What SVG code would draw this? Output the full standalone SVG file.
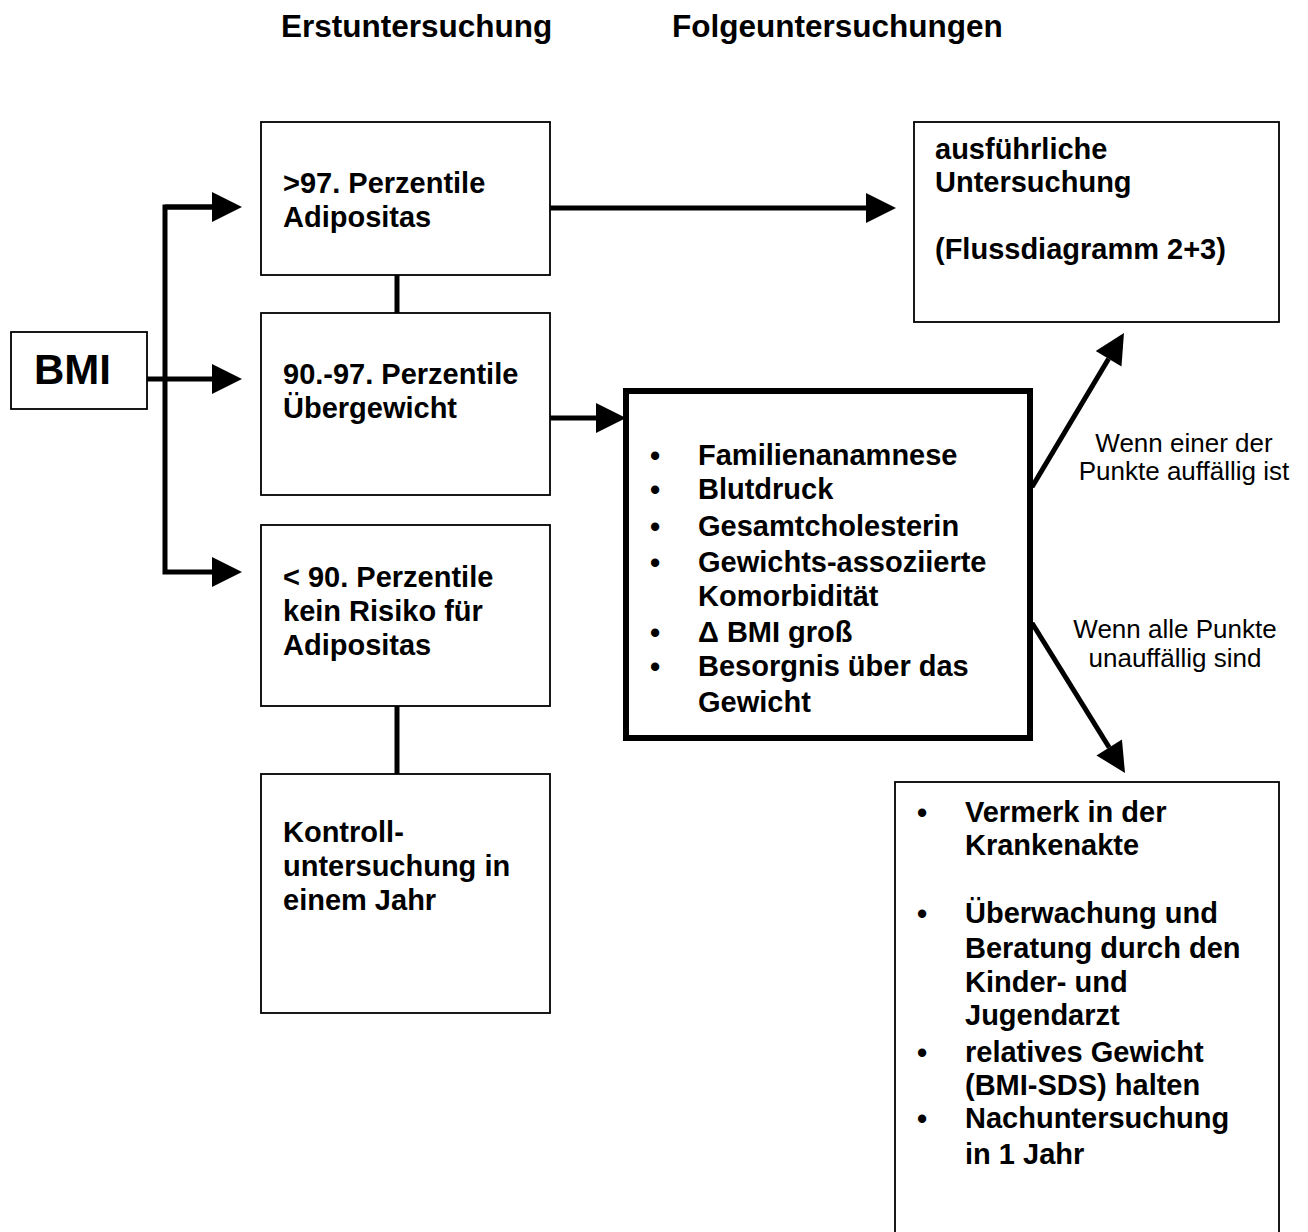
<svg xmlns="http://www.w3.org/2000/svg" width="1308" height="1232" viewBox="0 0 1308 1232">
<style>
.bx{fill:#fff;stroke:#000;stroke-width:1.8}
.thick{fill:#fff;stroke:#000;stroke-width:6}
.t{font-family:"Liberation Sans",Arial,sans-serif;font-weight:bold;font-size:29px;fill:#000}
.h{font-family:"Liberation Sans",Arial,sans-serif;font-weight:bold;font-size:31.5px;fill:#000}
.lbl{font-family:"Liberation Sans",Arial,sans-serif;font-size:26px;fill:#000;text-anchor:middle}
.bu{font-family:"Liberation Sans",Arial,sans-serif;font-weight:bold;font-size:29px;fill:#000;text-anchor:middle}
.c{fill:none;stroke:#000;stroke-width:5}
</style>
<defs>
<marker id="ah" markerUnits="userSpaceOnUse" markerWidth="30" markerHeight="30" refX="0" refY="15" orient="auto" overflow="visible">
<path d="M0,0 L30,15 L0,30 z" fill="#000"/>
</marker>
</defs>
<rect width="1308" height="1232" fill="#fff"/>

<g id="headers">
<text class="h" x="281" y="37">Erstuntersuchung</text>
<text class="h" x="672" y="37">Folgeuntersuchungen</text>
</g>

<g id="connectors">
<path class="c" d="M212,207 H165 V572 H212" marker-end="url(#ah)"/>
<path class="c" d="M165,207 H212" marker-end="url(#ah)"/>
<path class="c" d="M147,379 H212" marker-end="url(#ah)"/>
<path class="c" d="M550,208 H866" marker-end="url(#ah)"/>
<path class="c" d="M550,418 H596" marker-end="url(#ah)"/>
<path class="c" d="M397,275 V313"/>
<path class="c" d="M397,698 V774"/>
<path class="c" d="M1032,487 L1108.6,358.7" marker-end="url(#ah)"/>
<path class="c" d="M1032,623 L1109.2,747.5" marker-end="url(#ah)"/>
</g>

<g id="bmi">
<rect class="bx" x="11" y="332" width="136" height="77"/>
<text x="34" y="384" style="font-family:'Liberation Sans',Arial,sans-serif;font-weight:bold;font-size:42px">BMI</text>
</g>

<g id="n97">
<rect class="bx" x="261" y="122" width="289" height="153"/>
<text class="t" x="283" y="193">&gt;97. Perzentile</text>
<text class="t" x="283" y="227">Adipositas</text>
</g>

<g id="n90-97">
<rect class="bx" x="261" y="313" width="289" height="182"/>
<text class="t" x="283" y="384">90.-97. Perzentile</text>
<text class="t" x="283" y="418">Übergewicht</text>
</g>

<g id="n90">
<rect class="bx" x="261" y="525" width="289" height="181"/>
<text class="t" x="283" y="587">&lt; 90. Perzentile</text>
<text class="t" x="283" y="621">kein Risiko für</text>
<text class="t" x="283" y="655">Adipositas</text>
</g>

<g id="kontroll">
<rect class="bx" x="261" y="774" width="289" height="239"/>
<text class="t" x="283" y="842">Kontroll-</text>
<text class="t" x="283" y="876">untersuchung in</text>
<text class="t" x="283" y="910">einem Jahr</text>
</g>

<g id="ausfuehrlich">
<rect class="bx" x="914" y="122" width="365" height="200"/>
<text class="t" x="935" y="159">ausführliche</text>
<text class="t" x="935" y="192">Untersuchung</text>
<text class="t" x="935" y="259">(Flussdiagramm 2+3)</text>
</g>

<g id="checkliste">
<rect class="thick" x="626" y="391" width="404" height="347"/>
<text class="bu" x="655" y="466">•</text>
<text class="t" x="698" y="465">Familienanamnese</text>
<text class="bu" x="655" y="500">•</text>
<text class="t" x="698" y="499">Blutdruck</text>
<text class="bu" x="655" y="537">•</text>
<text class="t" x="698" y="536">Gesamtcholesterin</text>
<text class="bu" x="655" y="573">•</text>
<text class="t" x="698" y="572">Gewichts-assoziierte</text>
<text class="t" x="698" y="606">Komorbidität</text>
<text class="bu" x="655" y="643">•</text>
<text class="t" x="698" y="642">Δ BMI groß</text>
<text class="bu" x="655" y="677">•</text>
<text class="t" x="698" y="676">Besorgnis über das</text>
<text class="t" x="698" y="712">Gewicht</text>
</g>

<g id="labels">
<text class="lbl" x="1184" y="452">Wenn einer der</text>
<text class="lbl" x="1184" y="480">Punkte auffällig ist</text>
<text class="lbl" x="1175" y="638">Wenn alle Punkte</text>
<text class="lbl" x="1175" y="667">unauffällig sind</text>
</g>

<g id="massnahmen">
<rect class="bx" x="895" y="782" width="384" height="470"/>
<text class="bu" x="922" y="823">•</text>
<text class="t" x="965" y="822">Vermerk in der</text>
<text class="t" x="965" y="855">Krankenakte</text>
<text class="bu" x="922" y="924">•</text>
<text class="t" x="965" y="923">Überwachung und</text>
<text class="t" x="965" y="958">Beratung durch den</text>
<text class="t" x="965" y="992">Kinder- und</text>
<text class="t" x="965" y="1025">Jugendarzt</text>
<text class="bu" x="922" y="1063">•</text>
<text class="t" x="965" y="1062">relatives Gewicht</text>
<text class="t" x="965" y="1095">(BMI-SDS) halten</text>
<text class="bu" x="922" y="1129">•</text>
<text class="t" x="965" y="1128">Nachuntersuchung</text>
<text class="t" x="965" y="1164">in 1 Jahr</text>
</g>
</svg>
